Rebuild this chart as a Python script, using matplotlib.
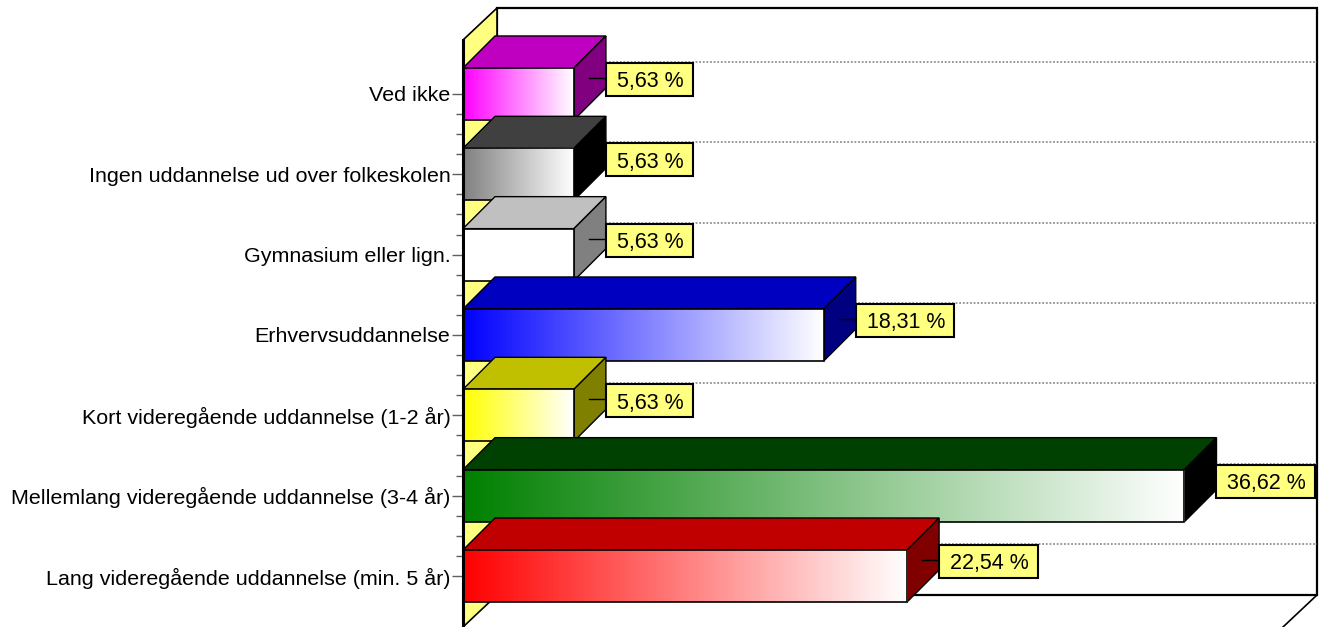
import numpy as np
import matplotlib
matplotlib.use("Agg")
import matplotlib.pyplot as plt
from matplotlib.colors import LinearSegmentedColormap
from matplotlib.patches import Polygon, Rectangle

plt.rcParams["font.family"] = ["Liberation Sans", "DejaVu Sans"]

# Bottom to top, as on the y axis
categories = [
    "Lang videregående uddannelse (min. 5 år)",
    "Mellemlang videregående uddannelse (3-4 år)",
    "Kort videregående uddannelse (1-2 år)",
    "Erhvervsuddannelse",
    "Gymnasium eller lign.",
    "Ingen uddannelse ud over folkeskolen",
    "Ved ikke",
]
values = [22.54, 36.62, 5.63, 18.31, 5.63, 5.63, 5.63]
front_colors = ["#FF0000", "#008000", "#FFFF00", "#0000FF", "#FFFFFF", "#808080", "#FF00FF"]
top_colors = ["#C00000", "#004000", "#C0C000", "#0000C0", "#C0C0C0", "#404040", "#C000C0"]
side_colors = ["#800000", "#000000", "#808000", "#000080", "#808080", "#000000", "#800080"]

W, H = 1320, 627
XMIN, XMAX = 0, 41.62
YMIN, YMAX = -0.635, 6.672

fig = plt.figure(figsize=(W / 100, H / 100), dpi=100)
ax = fig.add_axes([463 / W, 0, 820 / W, 587 / H])
ax.set_xlim(XMIN, XMAX)
ax.set_ylim(YMIN, YMAX)

# one pixel in data units, used for the fake 3D depth
px = (XMAX - XMIN) / 820
py = (YMAX - YMIN) / 587
wall_dx, wall_dy = 34 * px, 32 * py
bar_dx, bar_dy = 32 * px, 32 * py
bar_h = 52 * py

# back wall, left wall and floor
ax.add_patch(Rectangle((XMIN + wall_dx, YMIN + wall_dy), XMAX - XMIN, YMAX - YMIN,
                       fc="white", ec="black", lw=1.6, clip_on=False, zorder=1))
ax.add_patch(Polygon([(XMIN, YMIN), (XMIN + wall_dx, YMIN + wall_dy),
                      (XMIN + wall_dx, YMAX + wall_dy), (XMIN, YMAX)],
                     fc="#FFFF80", ec="black", lw=1.2, clip_on=False, zorder=1))
ax.plot([XMAX, XMAX + wall_dx], [YMIN, YMIN + wall_dy], color="black", lw=1.2,
        clip_on=False, zorder=1)

# dotted grid lines on the back wall
for i in range(len(categories)):
    ax.plot([XMIN + wall_dx, XMAX + wall_dx], [i + wall_dy, i + wall_dy], color="#909090",
            lw=1.3, ls=(0, (1, 1)), clip_on=False, zorder=2)

# bars, top one first so the lower ones overlap it
for i in range(len(categories) - 1, -1, -1):
    z = 10 + (len(categories) - i) * 2
    v = values[i]
    y0, y1 = i - bar_h / 2, i + bar_h / 2
    ax.add_patch(Polygon([(XMIN, y1), (XMIN + bar_dx, y1 + bar_dy), (v + bar_dx, y1 + bar_dy), (v, y1)],
                         fc=top_colors[i], ec="black", lw=1, clip_on=False, zorder=z))
    ax.add_patch(Polygon([(v, y0), (v, y1), (v + bar_dx, y1 + bar_dy), (v + bar_dx, y0 + bar_dy)],
                         fc=side_colors[i], ec="black", lw=1, clip_on=False, zorder=z))
    cmap = LinearSegmentedColormap.from_list("g", [front_colors[i], "#FFFFFF"])
    ax.imshow(np.linspace(0, 1, 256).reshape(1, -1), cmap=cmap, aspect="auto",
              extent=(XMIN, v, y0, y1), clip_on=False, zorder=z + 0.5)
    ax.add_patch(Rectangle((XMIN, y0), v - XMIN, y1 - y0, fc="none", ec="black", lw=1.2,
                           clip_on=False, zorder=z + 0.6))

ax.set_xlim(XMIN, XMAX)
ax.set_ylim(YMIN, YMAX)

# value labels with leader lines, box sized from the text
renderer = fig.canvas.get_renderer()
for i, v in enumerate(values):
    ax.plot([v + 15 * px, v + bar_dx], [i + 16 * py, i + 16 * py], color="black", lw=1,
            clip_on=False, zorder=40)
    box_x = v + bar_dx
    box_y = i + 14.5 * py
    txt = ax.text(box_x + 11 * px, box_y, f"{v:.2f} %".replace(".", ","), ha="left",
                  va="center_baseline", fontsize=15.5, color="black", clip_on=False, zorder=42)
    tw = txt.get_window_extent(renderer).width
    ax.add_patch(Rectangle((box_x, box_y - 16.5 * py), (tw + 20) * px, 33 * py, fc="#FFFF80",
                           ec="black", lw=1.5, clip_on=False, zorder=41))

# y axis
ax.set_yticks(range(len(categories)))
ax.set_yticklabels(categories, fontsize=15.45)
minor = [i + k / 4 for i in range(len(categories) - 1) for k in (1, 2, 3)]
ax.set_yticks(minor, minor=True)
ax.tick_params(axis="y", which="major", length=8, width=1, color="#606060", pad=1)
ax.tick_params(axis="y", which="minor", length=5, width=1, color="#606060")
ax.set_xticks([])
for name in ("top", "right", "bottom"):
    ax.spines[name].set_visible(False)
ax.spines["left"].set_linewidth(2.2)
ax.spines["left"].set_zorder(50)
ax.patch.set_alpha(0)

fig.savefig("out.png", dpi=100)
